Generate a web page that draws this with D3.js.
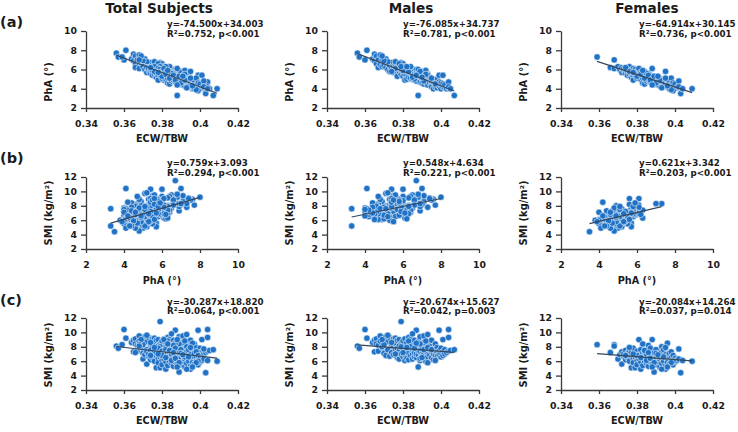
<!DOCTYPE html>
<html><head><meta charset="utf-8">
<script src="https://cdn.jsdelivr.net/npm/d3@7"></script>
<style>
body{margin:0;background:#fff}
svg{display:block}
text{font-family:"DejaVu Sans",Verdana,sans-serif;font-weight:700;fill:#1a1a1a}
</style>
</head><body>
<svg id="chart" width="738" height="432"></svg>
<script>
// ---- data: [ECW/TBW, PhA (°), SMI (kg/m²)] per subject ----
const males = [
[0.356,7.7,8.1],[0.357,7.3,7.8],[0.360,7.0,10.4],[0.361,8.0,9.2],[0.364,7.1,8.6],[0.365,7.6,8.9],
[0.365,6.9,7.3],[0.366,7.4,9.1],[0.366,6.6,8.4],[0.367,7.0,8.2],[0.367,6.2,7.4],[0.368,7.5,8.8],
[0.368,6.5,9.5],[0.369,6.9,7.9],[0.369,6.3,8.0],[0.370,6.7,9.0],[0.370,6.4,7.1],[0.371,7.1,9.4],
[0.371,6.2,6.8],[0.372,6.6,8.7],[0.372,6.0,7.6],[0.373,6.4,9.3],[0.373,5.8,6.7],[0.374,6.7,8.3],
[0.374,6.1,7.2],[0.375,6.3,9.1],[0.375,5.7,6.9],[0.375,6.0,8.0],[0.376,6.5,7.7],[0.376,5.9,8.5],
[0.376,6.8,9.2],[0.377,6.2,6.5],[0.377,5.6,7.8],[0.377,5.3,8.9],[0.378,6.4,7.4],[0.378,5.8,9.0],
[0.378,6.1,6.3],[0.379,6.7,11.5],[0.379,5.5,7.0],[0.379,6.0,8.4],[0.380,6.2,7.9],[0.380,5.7,6.6],
[0.380,5.3,8.2],[0.380,6.6,8.8],[0.381,5.9,7.3],[0.381,5.5,9.1],[0.381,6.3,6.9],[0.381,4.9,6.1],
[0.382,5.8,8.6],[0.382,6.1,7.5],[0.382,5.4,6.4],[0.382,5.0,7.7],[0.383,6.0,9.3],[0.383,5.6,7.1],
[0.383,5.2,8.0],[0.383,6.2,6.2],[0.384,5.5,8.5],[0.384,5.9,7.8],[0.384,5.1,6.8],[0.384,5.7,9.0],
[0.385,6.0,7.0],[0.385,5.4,7.6],[0.385,5.0,6.3],[0.385,5.6,8.3],[0.386,5.3,7.4],[0.386,5.8,8.9],
[0.386,4.9,6.6],[0.386,5.5,7.2],[0.387,6.0,10.3],[0.387,5.2,7.9],[0.387,5.6,6.5],[0.387,4.8,7.0],
[0.388,3.3,5.2],[0.388,5.4,8.2],[0.388,5.0,6.9],[0.388,5.7,7.5],[0.388,6.0,8.7],[0.389,5.1,7.3],
[0.389,4.7,6.1],[0.389,5.5,9.4],[0.389,5.3,6.4],[0.390,5.0,8.0],[0.390,4.6,7.1],[0.390,5.4,7.7],
[0.390,5.8,6.7],[0.391,4.9,8.6],[0.391,5.2,7.0],[0.391,4.5,6.3],[0.391,5.6,9.5],[0.392,5.0,7.4],
[0.392,4.7,8.3],[0.392,5.3,6.0],[0.392,5.9,7.8],[0.393,4.8,7.2],[0.393,5.1,9.7],[0.393,4.4,6.6],
[0.393,5.5,5.8],[0.394,4.9,7.6],[0.394,4.6,8.1],[0.394,5.2,6.9],[0.395,4.5,7.3],[0.395,4.8,8.9],
[0.395,4.2,6.5],[0.396,4.7,7.0],[0.396,4.0,7.7],[0.396,5.0,6.2],[0.397,4.4,8.4],[0.397,4.8,7.5],
[0.397,4.2,6.8],[0.398,4.6,7.9],[0.398,4.1,7.2],[0.398,5.0,6.7],[0.399,5.4,10.3],[0.399,4.3,7.4],
[0.399,4.7,6.9],[0.400,4.4,7.8],[0.400,4.0,6.6],[0.400,4.6,7.1],[0.401,5.4,9.0],[0.401,4.2,7.3],
[0.401,4.5,6.8],[0.402,4.1,7.6],[0.402,4.4,7.0],[0.403,4.0,7.2],[0.404,4.1,10.4],[0.404,4.7,9.3],
[0.404,4.2,7.4],[0.405,4.0,7.5],[0.407,3.3,7.6],[0.378,6.6,8.1],[0.380,5.9,7.2],[0.383,5.8,8.8],
[0.384,6.3,8.0],[0.386,5.0,7.8],[0.389,5.8,8.4],[0.391,4.8,7.6],[0.393,5.4,7.9],[0.376,6.1,7.0],
[0.374,5.8,8.6],[0.372,6.8,9.6],[0.370,6.9,8.3],[0.385,5.2,9.8],[0.387,5.4,8.5],[0.392,5.5,8.8],
[0.395,5.1,7.6],[0.379,6.3,8.0],[0.382,6.3,7.9],[0.390,5.2,6.5],[0.397,4.5,6.1],[0.369,7.4,9.0]
];
const females = [
[0.359,7.3,8.3],[0.366,6.2,7.2],[0.368,7.0,8.3],[0.368,6.1,8.1],[0.370,6.3,6.3],[0.371,6.0,6.9],
[0.372,5.7,5.6],[0.372,6.2,7.3],[0.373,5.9,6.7],[0.373,6.1,7.0],[0.374,5.6,6.2],[0.374,6.0,7.5],
[0.375,5.8,6.5],[0.375,5.4,7.1],[0.376,6.3,7.4],[0.376,5.5,6.0],[0.377,5.9,6.8],[0.377,5.2,5.1],
[0.377,5.6,7.2],[0.378,6.1,7.8],[0.378,5.3,6.4],[0.378,4.9,5.8],[0.379,5.7,5.1],[0.379,6.0,7.0],
[0.379,5.4,6.6],[0.380,5.1,6.1],[0.380,5.8,7.4],[0.380,5.5,5.5],[0.381,5.6,9.0],[0.381,6.1,6.9],
[0.381,5.2,6.3],[0.382,5.0,4.9],[0.382,5.7,7.6],[0.382,5.3,5.9],[0.383,4.6,6.7],[0.383,5.5,7.1],
[0.383,5.1,5.4],[0.384,4.5,6.0],[0.384,5.4,6.8],[0.384,5.8,7.3],[0.385,5.0,6.4],[0.385,5.3,5.7],
[0.385,4.8,7.0],[0.386,5.6,8.2],[0.386,5.2,6.2],[0.386,4.9,5.3],[0.387,5.1,7.8],[0.387,4.7,6.6],
[0.387,5.4,5.9],[0.388,6.1,9.0],[0.388,5.0,6.9],[0.388,4.6,5.6],[0.388,5.3,6.3],[0.389,4.8,4.5],
[0.389,5.1,7.2],[0.389,4.5,6.1],[0.390,5.2,7.6],[0.390,4.7,6.5],[0.390,4.9,5.5],[0.391,5.0,6.8],
[0.391,4.4,5.9],[0.391,4.8,7.0],[0.392,4.6,6.3],[0.392,5.1,5.2],[0.392,4.3,6.7],[0.393,4.9,8.0],
[0.393,4.5,5.7],[0.393,4.7,7.3],[0.394,4.4,6.4],[0.394,4.8,6.0],[0.394,5.0,7.6],[0.395,5.8,6.9],
[0.395,4.2,5.3],[0.395,4.6,4.9],[0.396,4.2,8.5],[0.396,4.5,6.2],[0.396,4.9,5.8],[0.397,4.3,6.6],
[0.397,4.0,7.1],[0.397,4.7,5.6],[0.398,5.1,6.5],[0.398,4.4,7.3],[0.398,4.1,6.0],[0.399,4.6,6.8],
[0.399,4.0,5.5],[0.400,4.3,6.4],[0.400,4.5,5.9],[0.401,4.1,6.1],[0.402,4.8,7.7],[0.402,4.2,6.3],
[0.403,3.5,4.4],[0.404,4.0,6.1],[0.409,4.0,6.0],[0.380,5.3,6.8],[0.382,5.5,6.5],[0.384,5.1,7.5],
[0.385,5.6,6.1],[0.386,5.4,7.2],[0.387,4.9,6.4],[0.389,5.3,5.8],[0.390,4.6,7.1],[0.392,4.9,6.6],
[0.376,5.8,7.9],[0.378,5.7,7.0],[0.383,5.9,8.4],[0.391,5.3,6.9],[0.394,4.2,6.6],[0.374,6.2,6.8],
[0.388,4.4,5.2],[0.395,5.1,7.9],[0.399,3.8,6.0],[0.398,3.9,5.8],[0.393,4.1,4.9],[0.396,4.3,5.2]
];
const columnTitles = ["Total Subjects", "Males", "Females"];
const rowLabels = ["(a)", "(b)", "(c)"];
const ecwTicks = [0.34, 0.36, 0.38, 0.40, 0.42];
const ecwTickLabels = ["0.34", "0.36", "0.38", "0.4", "0.42"];
const phaXTicks = [2, 4, 6, 8, 10];
const phaYTicks = [2, 4, 6, 8, 10];
const smiTicks = [2, 4, 6, 8, 10, 12];
const xTitles = ["ECW/TBW", "PhA (°)", "ECW/TBW"];
const yTitles = ["PhA (°)", "SMI (kg/m²)", "SMI (kg/m²)"];
// regression: rows (a,b,c) x columns (Total, Males, Females)
const slopes = [[-74.500, -76.085, -64.914], [0.759, 0.548, 0.621], [-30.287, -20.674, -20.084]];
const intercepts = [[34.003, 34.737, 30.145], [3.093, 4.634, 3.342], [18.820, 15.627, 14.264]];
const eqTexts = [
  ["y=-74.500x+34.003", "y=-76.085x+34.737", "y=-64.914x+30.145"],
  ["y=0.759x+3.093", "y=0.548x+4.634", "y=0.621x+3.342"],
  ["y=-30.287x+18.820", "y=-20.674x+15.627", "y=-20.084x+14.264"]
];
const statTexts = [
  ["R²=0.752, p<0.001", "R²=0.781, p<0.001", "R²=0.736, p<0.001"],
  ["R²=0.294, p<0.001", "R²=0.221, p<0.001", "R²=0.203, p<0.001"],
  ["R²=0.064, p<0.001", "R²=0.042, p=0.003", "R²=0.037, p=0.014"]
];

// ---- layout ----
const svg = d3.select("#chart");
const colLeft = [86, 327, 561];
const plotW = 152;
const rowTop = [31, 177, 318];
const rowBottom = [108, 249, 390];
const titleX = [159, 411, 647];
const eqX = [167, 403, 639];
const eqY1 = [27, 166, 305];
const eqY2 = [37, 176, 314];
const yTitleY = [82, 213, 355];
const labelY = [27, 163, 305];
const POINT = "#1f72c6";
const LINE = "#34475c";
const AXIS = "#3a3a3a";

const groups = [males.concat(females), males, females];
const rowFields = [[0, 1], [1, 2], [0, 2]];

columnTitles.forEach((t, c) => {
  svg.append("text").attr("x", titleX[c]).attr("y", 12.5).attr("text-anchor", "middle")
    .style("font-size", "13.6px").text(t);
});
rowLabels.forEach((t, r) => {
  svg.append("text").attr("x", 0).attr("y", labelY[r]).style("font-size", "14.5px").text(t);
});

for (let r = 0; r < 3; r++) {
  for (let c = 0; c < 3; c++) {
    const data = groups[c];
    const [xi, yi] = rowFields[r];
    const x = d3.scaleLinear().domain(r === 1 ? [2, 10] : [0.34, 0.42])
      .range([colLeft[c], colLeft[c] + plotW]);
    const y = d3.scaleLinear().domain(r === 0 ? [2, 10] : [2, 12])
      .range([rowBottom[r], rowTop[r]]);
    const g = svg.append("g");

    const xAxis = d3.axisBottom(x).tickSize(4).tickSizeOuter(0).tickPadding(4);
    if (r === 1) xAxis.tickValues(phaXTicks).tickFormat(d3.format("d"));
    else xAxis.tickValues(ecwTicks).tickFormat((d, i) => ecwTickLabels[i]);
    const yAxis = d3.axisLeft(y).tickSize(5).tickSizeOuter(0).tickPadding(4)
      .tickValues(r === 0 ? phaYTicks : smiTicks).tickFormat(d3.format("d"));

    const gx = g.append("g").attr("transform", `translate(0,${rowBottom[r]})`).call(xAxis);
    const gy = g.append("g").attr("transform", `translate(${colLeft[c]},0)`).call(yAxis);
    [gx, gy].forEach(a => {
      a.selectAll("path,line").attr("stroke", AXIS).attr("stroke-width", 1.3);
      a.selectAll("text").attr("fill", "#1a1a1a").style("font-size", "9.3px")
        .style("font-family", "'DejaVu Sans',Verdana,sans-serif").style("font-weight", 700);
    });
    gx.selectAll("text").attr("dy", "1.2em");

    g.selectAll("circle").data(data).enter().append("circle")
      .attr("cx", d => x(d[xi])).attr("cy", d => y(d[yi])).attr("r", 3.2)
      .attr("fill", POINT).attr("stroke", "#ffffff").attr("stroke-width", 0.55);

    const ext = d3.extent(data, d => d[xi]);
    const m = slopes[r][c], b = intercepts[r][c];
    g.append("line")
      .attr("x1", x(ext[0])).attr("y1", y(m * ext[0] + b))
      .attr("x2", x(ext[1])).attr("y2", y(m * ext[1] + b))
      .attr("stroke", LINE).attr("stroke-width", 1.2);

    g.append("text").attr("x", eqX[c]).attr("y", eqY1[r]).style("font-size", "8.7px").text(eqTexts[r][c]);
    g.append("text").attr("x", eqX[c]).attr("y", eqY2[r]).style("font-size", "8.7px").text(statTexts[r][c]);

    g.append("text").attr("x", colLeft[c] + plotW / 2).attr("y", rowBottom[r] + (r === 1 ? 35 : 33.5))
      .attr("text-anchor", "middle").style("font-size", "9.7px").text(xTitles[r]);
    g.append("text")
      .attr("transform", `translate(${colLeft[c] - 34.5},${yTitleY[r]}) rotate(-90)`)
      .attr("text-anchor", "middle").style("font-size", "9.9px").text(yTitles[r]);
  }
}
</script>
</body></html>
